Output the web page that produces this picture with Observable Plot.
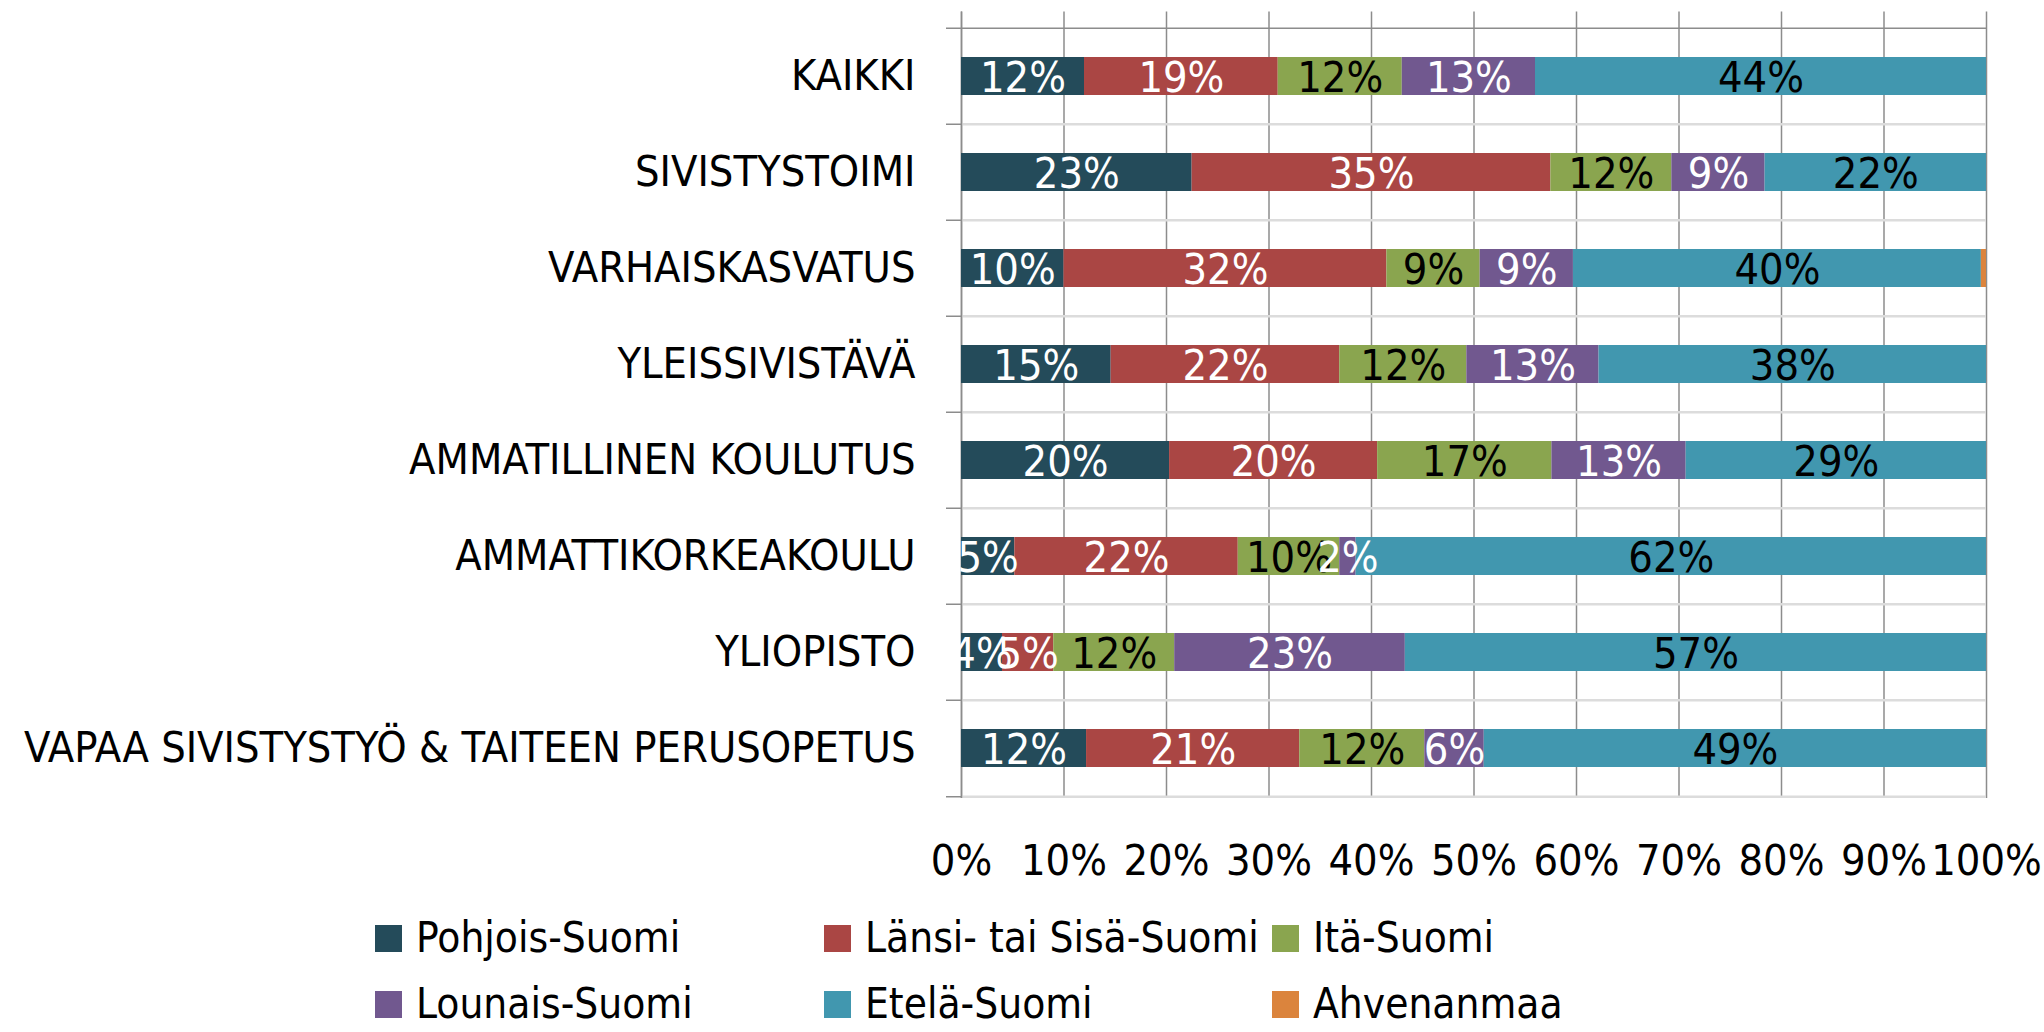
<!DOCTYPE html>
<html>
<head>
<meta charset="utf-8">
<script src="https://cdn.jsdelivr.net/npm/d3@7"></script>
<script src="https://cdn.jsdelivr.net/npm/@observablehq/plot@0.6"></script>
<style>
  html, body { margin: 0; padding: 0; background: #fff; }
  #wrap { position: relative; width: 2044px; height: 1032px; overflow: hidden; font-family: 'DejaVu Sans Condensed', 'Liberation Sans Narrow', sans-serif; }
  .lg { position: absolute; display: flex; align-items: center; font-size: 42px; line-height: 40px; height: 40px; color: #000; white-space: nowrap; }
  .sw { width: 27px; height: 27px; margin-right: 14px; flex: none; }
</style>
</head>
<body>
<div id="wrap"><div id="chart"></div><div id="legend"></div></div>
<script>
const categories = ["KAIKKI", "SIVISTYSTOIMI", "VARHAISKASVATUS", "YLEISSIVISTÄVÄ", "AMMATILLINEN KOULUTUS", "AMMATTIKORKEAKOULU", "YLIOPISTO", "VAPAA SIVISTYSTYÖ & TAITEEN PERUSOPETUS"];
const seriesNames = ["Pohjois-Suomi", "Länsi- tai Sisä-Suomi", "Itä-Suomi", "Lounais-Suomi", "Etelä-Suomi", "Ahvenanmaa"];
const pohjois    = [12.0, 22.5, 10.0, 14.6, 20.3, 5.2, 4.0, 12.2];
const lansi      = [18.9, 35.0, 31.5, 22.3, 20.3, 21.8, 5.0, 20.8];
const ita        = [12.1, 11.8, 9.1, 12.4, 17.0, 9.9, 11.8, 12.2];
const lounais    = [13.0, 9.1, 9.1, 12.9, 13.1, 1.6, 22.5, 5.8];
const etela      = [44.0, 21.6, 39.8, 37.8, 29.3, 61.5, 56.7, 49.0];
const ahvenanmaa = [0, 0, 0.5, 0, 0, 0, 0, 0];
const xTicks = [0, 10, 20, 30, 40, 50, 60, 70, 80, 90, 100];

const colors = ["#244b5a", "#aa4644", "#8aa54f", "#71588f", "#4197af", "#db843d"];
const labelColors = ["#ffffff", "#ffffff", "#000000", "#ffffff", "#000000", "#000000"];

const seriesValues = [pohjois, lansi, ita, lounais, etela, ahvenanmaa];
const rows = [];
seriesNames.forEach((s, si) => {
  categories.forEach((c, ci) => {
    rows.push({cat: c, series: s, si, value: seriesValues[si][ci]});
  });
});

const W = 2044, H = 890, frameTop = 26, frameBottom = 798;
const step = (frameBottom - frameTop) / categories.length;
const font = "'DejaVu Sans Condensed', 'Liberation Sans Narrow', sans-serif";
const fs = 43;

const chart = Plot.plot({
  width: W,
  height: H,
  marginLeft: 961,
  marginRight: 58,
  marginTop: frameTop,
  marginBottom: H - frameBottom,
  style: {fontFamily: font, fontSize: fs + "px", color: "#000", background: "#fff", overflow: "visible"},
  x: {domain: [0, 1], axis: null},
  y: {domain: categories, paddingInner: 0.6, paddingOuter: 0.3, axis: null},
  color: {domain: seriesNames, range: colors},
  marks: [
    Plot.ruleX(xTicks.map(t => t / 100), {stroke: "#8c8c8c", strokeWidth: 1.5, insetTop: -14.5}),
    Plot.ruleY(categories.slice(1), {x1: () => 0, x2: () => 1, dy: -step / 2, stroke: "#dcdcdc", strokeWidth: 2.5}),
    Plot.ruleY([categories[categories.length - 1]], {x1: () => 0, x2: () => 1, dy: step / 2, stroke: "#dcdcdc", strokeWidth: 2.5}),
    Plot.ruleY(categories.slice(1), {x1: () => 0, x2: () => 0, insetLeft: -15, dy: -step / 2, stroke: "#8c8c8c", strokeWidth: 1.5}),
    Plot.ruleY([categories[categories.length - 1]], {x1: () => 0, x2: () => 0, insetLeft: -15, dy: step / 2, stroke: "#8c8c8c", strokeWidth: 1.5}),
    Plot.ruleY([categories[0]], {x1: () => 0, x2: () => 1, insetLeft: -15, dy: -step / 2, stroke: "#8c8c8c", strokeWidth: 1.5}),
    Plot.ruleX([0], {stroke: "#8c8c8c", strokeWidth: 1.5, insetTop: -14.5}),
    Plot.barX(rows, Plot.stackX({offset: "normalize", x: "value", y: "cat", z: "series", fill: "series"})),
    Plot.text(rows, Plot.stackX({
      offset: "normalize", x: "value", y: "cat", z: "series",
      text: d => d.value >= 1 ? Math.round(d.value) + "%" : "",
      fill: d => labelColors[d.si],
      fontSize: fs, dy: 2, textAnchor: "middle"
    })),
    Plot.axisY({tickSize: 0, tickPadding: 46, label: null, fontSize: fs}),
    Plot.axisX(xTicks.map(t => t / 100), {tickSize: 0, tickPadding: 46, label: null, fontSize: fs, tickFormat: d => Math.round(d * 100) + "%"})
  ]
});
document.getElementById("chart").appendChild(chart);

// Legend (HTML, below the SVG)
const legendPos = [
  {x: 375, y: 938}, {x: 824, y: 938}, {x: 1272, y: 938},
  {x: 375, y: 1004}, {x: 824, y: 1004}, {x: 1272, y: 1004}
];
const lg = document.getElementById("legend");
seriesNames.forEach((s, i) => {
  const item = document.createElement("div");
  item.className = "lg";
  item.style.left = legendPos[i].x + "px";
  item.style.top = (legendPos[i].y - 20) + "px";
  const sw = document.createElement("span");
  sw.className = "sw";
  sw.style.background = colors[i];
  const t = document.createElement("span");
  t.textContent = s;
  item.appendChild(sw);
  item.appendChild(t);
  lg.appendChild(item);
});
</script>
</body>
</html>
